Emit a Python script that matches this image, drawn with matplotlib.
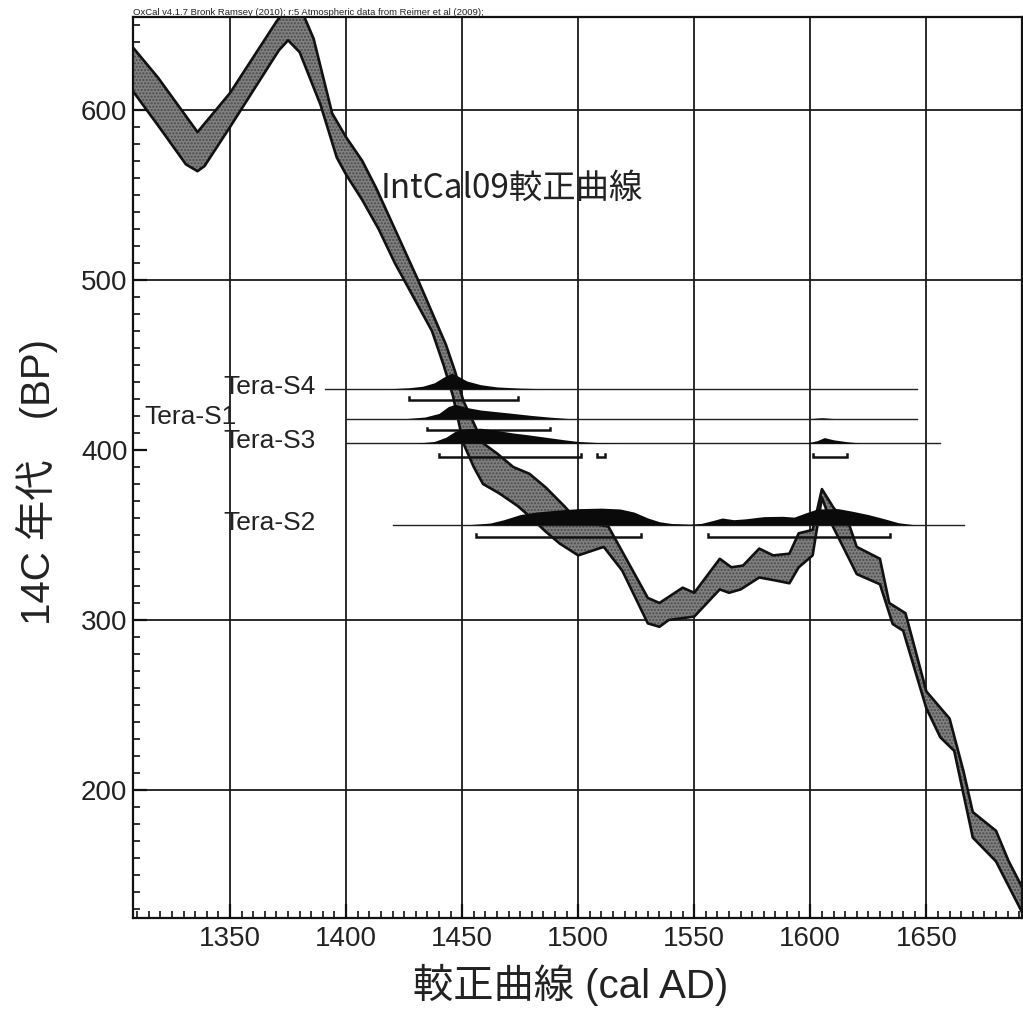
import matplotlib
matplotlib.use("Agg")
import matplotlib.pyplot as plt
import numpy as np
from matplotlib.ticker import MultipleLocator, FixedLocator

# ---------------- data ----------------
# IntCal09 calibration band (upper / lower edges, 14C BP)
cal_upper_years = [1305, 1319, 1336, 1350, 1370, 1376, 1381, 1386, 1394, 1400, 1407, 1413,
                   1422, 1431, 1443, 1447, 1450.5, 1459, 1465, 1472, 1479, 1486, 1494, 1500,
                   1513, 1530, 1535, 1545, 1550, 1561, 1566, 1571, 1578, 1584, 1591, 1595,
                   1601, 1605, 1610, 1617, 1620, 1630, 1634, 1641, 1650, 1660, 1666, 1670,
                   1680, 1685.5, 1695]
cal_upper_bp = [642, 619, 587, 610, 652, 663, 658, 642, 598, 584, 570, 554,
                527, 500, 462, 446, 429, 404, 398, 390, 386, 378, 367, 358,
                355, 313, 310, 319, 316, 336, 331, 332, 342, 338, 339, 351,
                353, 377, 366, 355, 343, 336, 310, 304, 258, 242, 211, 187,
                176, 158, 133]
cal_lower_years = [1305, 1320, 1331, 1336, 1339, 1350, 1371, 1375, 1380, 1389, 1396, 1400,
                   1407, 1414, 1421, 1437, 1442, 1446, 1450.5, 1455, 1459, 1466, 1474, 1479,
                   1486, 1492, 1500, 1511, 1519, 1530, 1535, 1539, 1550, 1561, 1565, 1570,
                   1578, 1584, 1591, 1595, 1601, 1605, 1609, 1620, 1630, 1635.5, 1640, 1650,
                   1656, 1662, 1670, 1680, 1695]
cal_lower_bp = [617, 589, 568, 564, 567, 590, 635, 641, 634, 603, 572, 562,
                547, 530, 510, 470, 450, 432, 404, 390, 380, 374.5, 367, 361,
                352, 345, 338, 343, 329, 298, 296, 300, 302, 318, 316, 318,
                325, 323.5, 321.6, 331, 338, 372, 357, 327, 321, 297.6, 293.7, 248,
                231, 223, 172, 158, 118]

# samples
sample_names = ["Tera-S4", "Tera-S1", "Tera-S3", "Tera-S2"]
sample_bp = [436, 418.5, 404, 356]              # baseline level (14C BP)
line_start = [1391, 1400, 1400, 1420]           # extent of each baseline (cal AD)
line_end = [1646, 1646, 1656, 1666]
label_end = [1387, 1353, 1387, 1387]            # label right edge (cal AD)

# probability profiles (cal AD, height in BP units)
s4_years = [1418, 1427, 1433, 1438, 1442, 1445.5, 1448, 1452, 1458, 1465, 1475, 1486]
s4_h = [0, 0.6, 1.5, 3.5, 6.8, 9.2, 7.6, 4.6, 2.4, 1.1, 0.4, 0]
s1_years = [1426, 1434, 1440, 1444, 1447, 1452, 1458, 1465, 1472, 1480, 1488, 1496,
            1600, 1605, 1610]
s1_h = [0, 0.9, 3.0, 7.0, 8.4, 6.5, 5.0, 4.0, 3.0, 1.8, 0.8, 0,
        0, 0.5, 0]
s3_years = [1430, 1438, 1443, 1447, 1452, 1458, 1465, 1472, 1478, 1486, 1494, 1500, 1508, 1520,
            1598, 1603, 1606, 1610, 1615, 1622]
s3_h = [0, 1.0, 3.5, 7.0, 8.5, 8.8, 7.5, 6.0, 5.0, 3.5, 2.0, 1.0, 0.4, 0,
        0, 1.5, 3.3, 2.0, 1.0, 0]
s2_years = [1452, 1462, 1468, 1475, 1482, 1490, 1500, 1510, 1518, 1524, 1530, 1535, 1540,
            1548, 1553, 1558, 1562, 1567, 1572, 1580, 1588, 1593, 1598, 1603, 1612, 1618,
            1625, 1632, 1638, 1645]
s2_h = [0, 1.0, 3.0, 6.0, 7.5, 8.5, 9.5, 9.8, 9.3, 7.5, 4.0, 1.8, 0.8,
        0.4, 0.8, 2.5, 4.0, 3.0, 3.5, 4.8, 5.0, 4.5, 7.0, 9.3, 9.5, 8.0,
        6.0, 3.5, 1.2, 0]
profiles_years = [s4_years, s1_years, s3_years, s2_years]
profiles_h = [s4_h, s1_h, s3_h, s2_h]

# calibrated ranges (cal AD) and bar level (BP)
ranges = [[(1427, 1474)],
          [(1435, 1488)],
          [(1440, 1501), (1508, 1511.5), (1601, 1616)],
          [(1456, 1527), (1556, 1634.5)]]
range_bp = [429.5, 411.5, 396, 349]

x_major = [1350, 1400, 1450, 1500, 1550, 1600, 1650]
y_major = [200, 300, 400, 500, 600]
y_grid = [200, 300, 500, 600]

title_text = "OxCal v4.1.7 Bronk Ramsey (2010); r:5 Atmospheric data from Reimer et al (2009);"
curve_label = "IntCal09較正曲線"
xlabel = "較正曲線 (cal AD)"
ylabel = "14C 年代\u3000(BP)"

# ---------------- plot ----------------
W, H = 1023, 1011
fig = plt.figure(figsize=(W / 100, H / 100), dpi=100)
ax = fig.add_axes([133 / W, 1 - 918 / H, (1022 - 133) / W, (918 - 17) / H])
ax.set_xlim(1308.2, 1691.2)
ax.set_ylim(124.7, 654.7)

latin = ['Liberation Sans', 'Noto Sans CJK JP']

for xv in x_major:
    ax.axvline(xv, color='#1a1a1a', lw=1.3, zorder=1)
for yv in y_grid:
    ax.axhline(yv, color='#1a1a1a', lw=1.3, zorder=1)

# calibration band
poly_x = list(cal_upper_years) + list(cal_lower_years[::-1])
poly_y = list(cal_upper_bp) + list(cal_lower_bp[::-1])
ax.fill(poly_x, poly_y, facecolor='#808080', edgecolor='none', zorder=2)
ax.fill(poly_x, poly_y, facecolor='none', edgecolor='#4a4a4a', hatch='.....', lw=0, zorder=2)
ax.plot(cal_upper_years, cal_upper_bp, color='#111111', lw=1.9, zorder=3)
ax.plot(cal_lower_years, cal_lower_bp, color='#111111', lw=1.9, zorder=3)

# sample distributions
for name, base, ls, le, lx, yrs, hs, rngs, rb in zip(sample_names, sample_bp, line_start, line_end,
                                                    label_end, profiles_years, profiles_h, ranges, range_bp):
    ax.plot([ls, le], [base, base], color='#222222', lw=1.0, zorder=4)
    yrs = np.asarray(yrs, float)
    hs = np.asarray(hs, float)
    ax.fill_between(yrs, base, base + hs, color='#0a0a0a', lw=0, zorder=5)
    for (r0, r1) in rngs:
        ax.plot([r0, r0, r1, r1], [rb + 1.6, rb, rb, rb + 1.6], color='#111111', lw=1.8,
                zorder=5, solid_joinstyle='miter')
    ax.text(lx, base + 1, name, ha='right', va='center', fontsize=19, family=latin,
            color='#222222', zorder=6)

ax.text(1415, 554, curve_label, ha='left', va='center', fontsize=24,
        family=['Noto Sans CJK JP', 'DejaVu Sans'], color='#222222', zorder=6)

# axes styling
for sp in ax.spines.values():
    sp.set_linewidth(1.6)
    sp.set_color('#111111')
ax.xaxis.set_major_locator(FixedLocator(x_major))
ax.xaxis.set_minor_locator(MultipleLocator(5))
ax.yaxis.set_major_locator(FixedLocator(y_major))
ax.yaxis.set_minor_locator(MultipleLocator(10))
ax.tick_params(which='both', direction='in', top=False, right=False, color='#111111')
ax.tick_params(which='major', length=10, width=1.6, labelsize=20)
ax.tick_params(which='minor', length=5, width=1.2)
ax.tick_params(axis='x', which='major', pad=6)
ax.tick_params(axis='y', which='major', pad=4)
for lab in ax.get_xticklabels() + ax.get_yticklabels():
    lab.set_family(latin)
    lab.set_color('#222222')

ax.annotate(title_text, xy=(0, 1), xycoords='axes fraction', xytext=(0, 1.5),
            textcoords='offset points', ha='left', va='baseline', fontsize=6.8,
            family=latin, color='#222222')

fig.text(571 / W, 1 - 985 / H, xlabel, ha='center', va='center', fontsize=29,
         family=latin, color='#222222')
fig.text(37 / W, 1 - 482 / H, ylabel, ha='center', va='center', fontsize=29,
         rotation=90, family=latin, color='#222222')

fig.savefig('out.png', dpi=100)
